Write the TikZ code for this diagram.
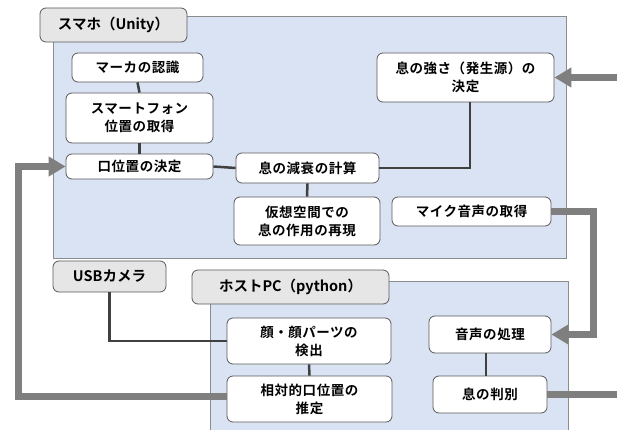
\documentclass[tikz,border=0pt]{standalone}
\usepackage{fontspec}
\setmainfont{Noto Sans CJK JP}[BoldFont={* Bold}]
\newfontfamily\boxfont{Noto Sans CJK JP}[BoldFont={* Bold}, LetterSpace=4]
\usetikzlibrary{arrows.meta}
\definecolor{panelblue}{HTML}{DAE3F3}
\definecolor{panelline}{HTML}{8C8C8C}
\definecolor{tabfill}{HTML}{E7E6E6}
\definecolor{boxline}{HTML}{595959}
\definecolor{darkline}{HTML}{404040}
\definecolor{thickgray}{HTML}{7F7F7F}
\tikzset{
  box/.style={draw=boxline, fill=white, rounded corners=6pt, line width=0.8pt,
    align=center, inner sep=0pt, font=\boxfont\fontsize{13.5}{18}\selectfont\bfseries},
  tab/.style={draw=boxline, fill=tabfill, rounded corners=6pt, line width=0.8pt,
    align=center, inner sep=0pt, font=\fontsize{14.5}{18}\selectfont\bfseries},
  link/.style={draw=darkline, line width=2.5pt},
  flow/.style={draw=thickgray, line width=7pt},
  flowarrow/.style={flow, -{Triangle[length=17pt,width=19pt]}},
}
\begin{document}
\begin{tikzpicture}[x=1pt,y=-1pt]
\useasboundingbox (0,0) rectangle (617,430);
% panels
\fill[panelblue] (53,16) rectangle (566,258);
\draw[panelline, line width=0.8pt] (53,258) -- (53,16) -- (566,16) -- (566,258) -- cycle;
\fill[panelblue] (210,281) rectangle (568,431);
\draw[panelline, line width=0.8pt] (210,431) -- (210,281) -- (568,281) -- (568,431);

% tabs
\node[tab, minimum width=147pt, minimum height=34pt] (tsmaho) at (113.5,25) {スマホ（Unity）};
\node[tab, minimum width=113pt, minimum height=31pt] (tusb) at (109.5,276.5) {USBカメラ};
\node[tab, minimum width=197pt, minimum height=34pt] (thost) at (290.5,287) {ホストPC（python）};

% smartphone nodes
\node[box, minimum width=131pt, minimum height=29pt] (marker) at (137.5,67.5) {マーカの認識};
\node[box, minimum width=147pt, minimum height=50pt] (phone) at (139.5,118) {スマートフォン\\位置の取得};
\node[box, minimum width=147pt, minimum height=25pt] (mouth) at (139.5,166.5) {口位置の決定};
\node[box, minimum width=143pt, minimum height=30pt] (decay) at (307.5,168) {息の減衰の計算};
\node[box, minimum width=146pt, minimum height=48pt] (virtual) at (307,221) {仮想空間での\\息の作用の再現};
\node[box, minimum width=177pt, minimum height=49pt] (strength) at (465.5,77.5) {息の強さ（発生源）の\\決定};
\node[box, minimum width=159pt, minimum height=29pt] (mic) at (471.5,211.5) {マイク音声の取得};

% host nodes
\node[box, minimum width=164pt, minimum height=46pt] (face) at (309,341) {顔・顔パーツの\\検出};
\node[box, minimum width=165pt, minimum height=46pt] (rel) at (309.5,399) {相対的口位置の\\推定};
\node[box, minimum width=122pt, minimum height=37pt] (audio) at (490,334.5) {音声の処理};
\node[box, minimum width=114pt, minimum height=37pt] (judge) at (490,394.5) {息の判別};

% coordinates
\coordinate (inR) at (617,77.5);
\coordinate (outR) at (617,394.5);
\coordinate (micx) at (593,0);
\coordinate (leftx) at (18,0);

% dark links
\path[link] (marker.south) -- (phone.north);
\path[link] (phone.south) -- (mouth.north);
\path[link] (mouth.east) -- (decay.west);
\path[link] (decay.south) -- (virtual.north);
\path[link] ([xshift=4.5pt]strength.south) |- (decay.east);
\path[link] (tusb.south) |- (face.west);
\path[link] (face.south) -- (rel.north);
\path[link] ([xshift=-4pt]audio.south) -- ([xshift=-4pt]judge.north);

% thick gray flows
\path[flowarrow] (inR) -- (strength.east);
\path[flowarrow] (mic.east) -| (micx |- audio.east) -- (audio.east);
\path[flowarrow] ([yshift=3pt]rel.west) -| (leftx |- mouth.west) -- (mouth.west);
\path[flow] (judge.east) -- (outR);
\end{tikzpicture}
\end{document}
